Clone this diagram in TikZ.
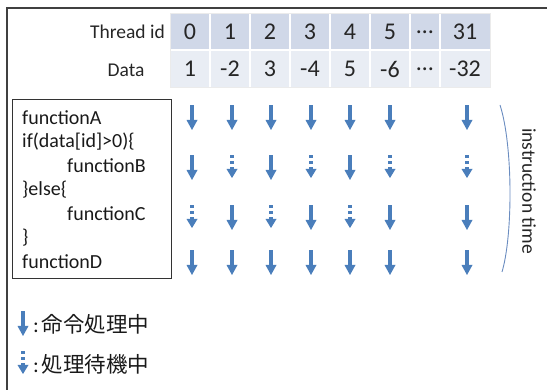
\documentclass[tikz,border=0pt]{standalone}
\usepackage{fontspec}
\setmainfont{Carlito}
\newfontfamily\cjk{Noto Sans CJK JP}
\definecolor{arr}{HTML}{4A7EBB}
\definecolor{hdr}{HTML}{D0D8E8}
\definecolor{dat}{HTML}{E9EDF4}
\definecolor{brk}{HTML}{6A8CC0}
\begin{document}
\begin{tikzpicture}[x=1pt,y=-1pt,
  solidarr/.pic={\fill[arr] (-1.8,0) rectangle (1.8,16); \fill[arr] (-5.5,15) -- (5.5,15) -- (0,25) -- cycle;},
  waitarr/.pic={\fill[arr] (-1.8,0) rectangle (1.8,3.2); \fill[arr] (-1.8,6.2) rectangle (1.8,9.4); \fill[arr] (-1.8,12) rectangle (1.8,15); \fill[arr] (-5.5,14) -- (5.5,14) -- (0,23) -- cycle;},
  num/.style={font=\fontsize{24}{26}\selectfont, text=black!85},
  lab/.style={font=\fontsize{19.5}{21}\selectfont, text=black!85},
  code/.style={font=\fontsize{20}{22}\selectfont, text=black!90, anchor=west, inner sep=0pt},
  legtext/.style={anchor=west, inner sep=0pt, text=black!90, font=\fontsize{21.5}{23}\selectfont}
]
\useasboundingbox (0,0) rectangle (547,390);
% frame
\draw[black!75, line width=1.4pt] (547,8) -- (7,8) -- (7,390);
% table
\foreach \a/\b in {170/210,210/250,250/290,290/330,330/370,370/410,410/440,440/490}{
  \fill[hdr] (\a,13) rectangle (\b,50);
  \fill[dat] (\a,50) rectangle (\b,87);
}
\foreach \a in {210,250,290,330,370,410,440}{ \draw[white, line width=1.5pt] (\a,13) -- (\a,87); }
\draw[white, line width=1.5pt] (170,50) -- (490,50);
\draw[black!8, line width=0.6pt] (170,13) rectangle (490,87);
\node[lab, anchor=east, inner sep=0pt] (tid) at (165,32) {Thread id};
\node[lab] (dlab) at (126,70) {Data};
\foreach \c/\t/\d [count=\i] in {190/0/1, 230/1/-2, 270/2/3, 310/3/-4, 350/4/5, 390/5/-6, 425/…/…, 465/31/-32}{
  \node[num] (h\i) at (\c,32) {\t};
  \node[num] (d\i) at (\c,69) {\d};
}
% code box
\draw[black!80, line width=1pt] (12,100) rectangle (171,279);
\node[code] (l1) at (22,118) {functionA};
\node[code] (l2) at (22,142) {if(data[id]>0)\{};
\node[code] (l3) at (67,166) {functionB};
\node[code] (l4) at (22,190) {\}else\{};
\node[code] (l5) at (67,214) {functionC};
\node[code] (l6) at (22,238) {\}};
\node[code] (l7) at (22,262) {functionD};
% arrows
\foreach \x in {192,232,271,311,350,390,467}{
  \pic at (\x,105) {solidarr};
  \pic at (\x,250) {solidarr};
}
\foreach \x/\s in {192/solidarr,232/waitarr,271/solidarr,311/waitarr,350/solidarr,390/waitarr,467/waitarr}{
  \pic at (\x,155) {\s};
}
\foreach \x/\s in {192/waitarr,232/solidarr,271/waitarr,311/solidarr,350/waitarr,390/solidarr,467/solidarr}{
  \pic at (\x,205) {\s};
}
% bracket
\draw[brk, line width=0.9pt] (500,105) .. controls (513,145) and (513,235) .. (502,272);
\node[lab, rotate=-90] (itime) at (529,191) {instruction time};
% legend
\pic at (23,311) {solidarr};
\pic at (23,351) {waitarr};
\node[legtext] (leg1) at (33,324) {:\hspace{3pt}\cjk 命令処理中};
\node[legtext] (leg2) at (33,364) {:\hspace{3pt}\cjk 処理待機中};
\end{tikzpicture}
\end{document}
